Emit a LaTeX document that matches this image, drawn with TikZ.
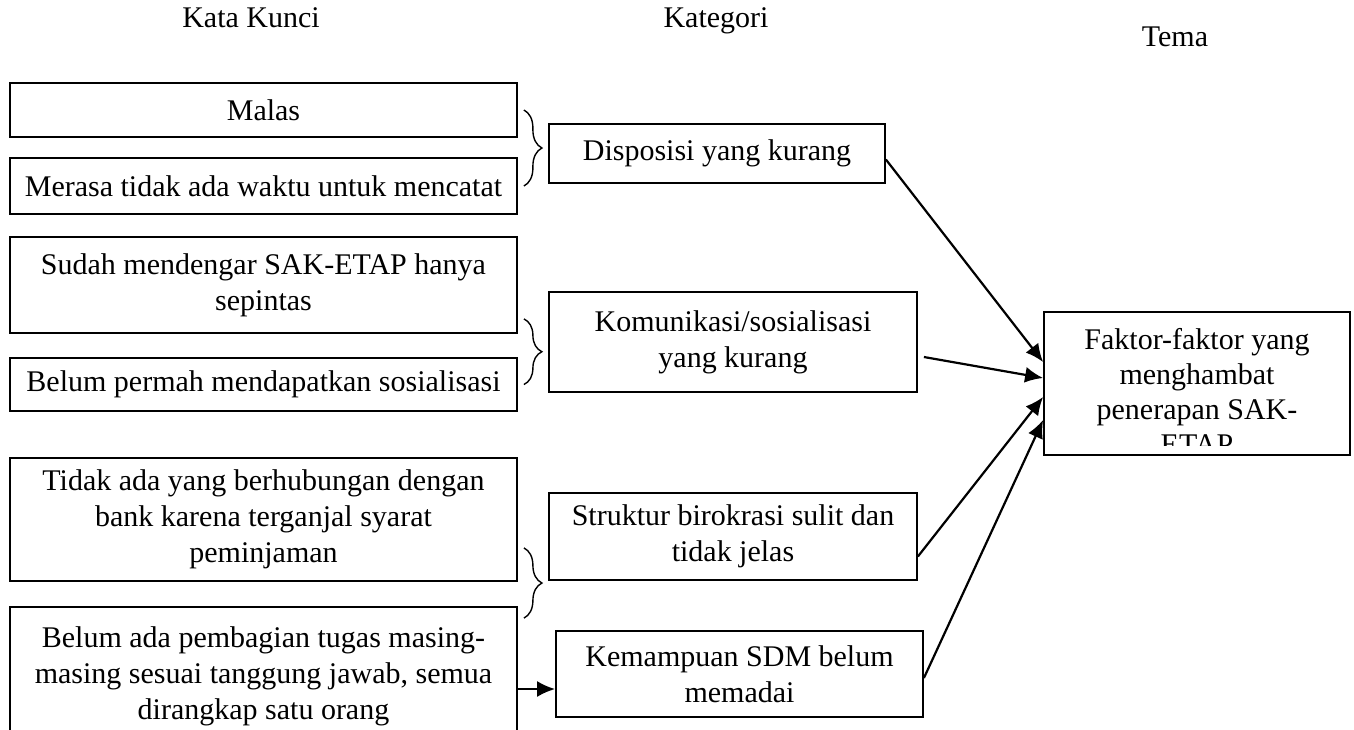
\documentclass[tikz,border=0pt]{standalone}
\usepackage{fontspec}
\setmainfont{Liberation Serif}
\usetikzlibrary{arrows.meta,decorations.pathreplacing}
\newcommand{\teks}{\fontsize{15pt}{18pt}\selectfont}

\begin{document}
\begin{tikzpicture}[
        x=0.5pt, y=-0.5pt,
        kotak/.style={draw, line width=0.9pt, align=center, inner sep=0pt, font=\teks},
        judul/.style={inner sep=0pt, anchor=base, font=\teks},
        panah/.style={draw, line width=1.1pt, -{Latex[length=9pt,width=8pt]}},
        kurung/.style={draw, line width=0.7pt, decorate, decoration={brace, amplitude=9pt}}
    ]
        \useasboundingbox (0,0) rectangle (1354,729);
        \node[judul] (kunci) at (251,27) {Kata Kunci};
        \node[judul] (kategori) at (716,27) {Kategori};
        \node[judul] (judultema) at (1175,46) {Tema};

        \node[kotak, minimum width=253.5pt, minimum height=27pt] (malas) at (263.5,110) {Malas};
        \node[kotak, minimum width=253.5pt, minimum height=28pt] (merasa) at (263.5,186) {Merasa tidak ada waktu untuk mencatat};
        \node[kotak, minimum width=253.5pt, minimum height=48pt] (sudah) at (263.5,285) {Sudah mendengar SAK-ETAP hanya\\sepintas};
        \node[kotak, minimum width=253.5pt, minimum height=26.5pt] (belum) at (263.5,384.5) {Belum permah mendapatkan sosialisasi};
        \node[kotak, minimum width=253.5pt, minimum height=61.5pt] (tidak) at (263.5,519.5) {Tidak ada yang berhubungan dengan\\bank karena terganjal syarat\\peminjaman};
        \node[kotak, minimum width=253.5pt, minimum height=69pt] (tugas) at (263.5,676) {Belum ada pembagian tugas masing-\\masing sesuai tanggung jawab, semua\\dirangkap satu orang};

        \node[kotak, minimum width=168pt, minimum height=29.5pt] (disposisi) at (717,153.5) {Disposisi yang kurang};
        \node[kotak, minimum width=184pt, minimum height=50pt] (komunikasi) at (733,342) {Komunikasi/sosialisasi\\yang kurang};
        \node[kotak, minimum width=184pt, minimum height=43.5pt] (struktur) at (733,536.5) {Struktur birokrasi sulit dan\\tidak jelas};
        \node[kotak, minimum width=183.5pt, minimum height=43pt] (sdm) at (739.5,674) {Kemampuan SDM belum\\memadai};

        \node[kotak, minimum width=153pt, minimum height=71.5pt] (tema) at (1197,383.5) {};
        \begin{scope}
            \clip (tema.north west) rectangle ([yshift=5pt]tema.south east);
            \node[align=center, inner sep=0pt, anchor=north, font=\fontsize{15pt}{17.5pt}\selectfont] (temaisi) at ([yshift=-8.25pt]tema.north) {Faktor-faktor yang\\menghambat\\penerapan SAK-\\ETAP};
        \end{scope}

        \draw[kurung] ([xshift=3pt]malas.east) -- ([xshift=3pt]merasa.east);
        \draw[kurung] ([xshift=3pt,yshift=7.5pt]sudah.south east) -- ([xshift=3pt]belum.east);
        \draw[kurung] ([xshift=3pt,yshift=17pt]tidak.south east) -- ([xshift=3pt,yshift=-6pt]tugas.north east);

        \draw[panah] ([yshift=-3pt]disposisi.east) -- ([yshift=10.75pt]tema.west);
        \draw[panah] ([xshift=3pt,yshift=-7.5pt]komunikasi.east) -- ([yshift=2.75pt]tema.west);
        \draw[panah] ([yshift=-10pt]struktur.east) -- ([yshift=-6.75pt]tema.west);
        \draw[panah] ([yshift=-2pt]sdm.east) -- ([yshift=-18.25pt]tema.west);
        \draw[panah] ([yshift=-6.5pt]tugas.east) -- ([yshift=-7.5pt]sdm.west);
    \end{tikzpicture}
\end{document}
